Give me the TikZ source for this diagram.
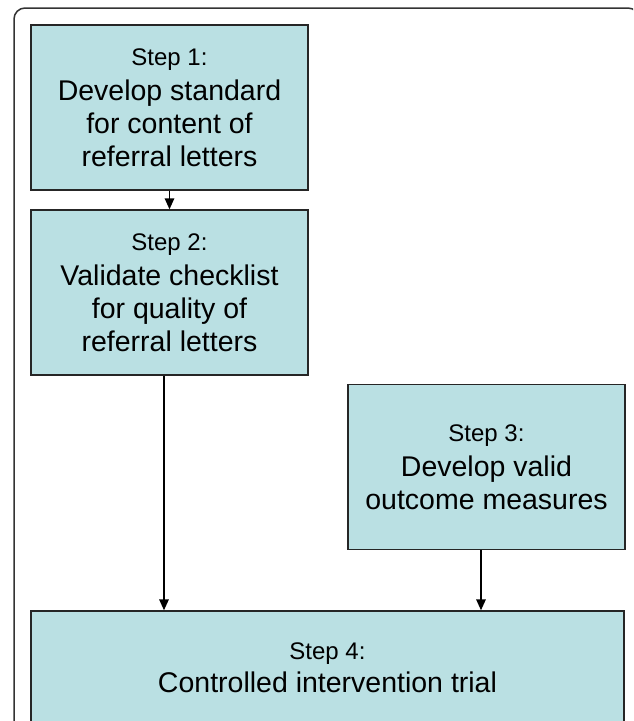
\documentclass[tikz,border=0pt]{standalone}
\usepackage{fontspec}
\setmainfont{Liberation Sans}
\usetikzlibrary{arrows.meta}
\definecolor{stepfill}{RGB}{186,224,227}

\begin{document}
\begin{tikzpicture}[
    x=1pt, y=-1pt,
    step box/.style={draw=black!85, line width=1.4pt, fill=stepfill, inner sep=0pt,
        minimum width=277pt, minimum height=165pt, align=center,
        font=\fontsize{28.5}{33}\selectfont},
    flow arrow/.style={line width=1.6pt, -{Triangle[length=11pt, width=9.5pt]}},
    outer frame/.style={draw=black!80, line width=1.5pt, rounded corners=11pt}
]
\useasboundingbox (0,0) rectangle (633,721);
\clip (0,0) rectangle (633,721);

% 1. Marco exterior (cortado a la derecha y abajo)
\draw[outer frame] (14,8) rectangle (639,760);

% 2. Cajas de los pasos
\node[step box] (box1) at (169.5,107.5) {{\fontsize{24}{33}\selectfont Step 1:}\\[2pt]
    Develop standard\\ for content of\\ referral letters};
\node[step box] (box2) at (169.5,292.5) {{\fontsize{24}{33}\selectfont Step 2:}\\[2pt]
    Validate checklist\\ for quality of\\ referral letters};
\node[step box] (box3) at (486.5,467) {{\fontsize{24}{33}\selectfont Step 3:}\\[2pt]
    Develop valid\\ outcome measures};
\node[step box, minimum width=593pt, minimum height=114pt] (box4) at (327.5,668)
    {{\fontsize{24}{33}\selectfont Step 4:}\\ Controlled intervention trial};

% 3. Flechas entre pasos
\draw[flow arrow] (box1.south) -- (box2.north);
\draw[flow arrow] ([xshift=-5.5pt]box2.south) -- ([xshift=-5.5pt]box2.south |- box4.north);
\draw[flow arrow] ([xshift=-5.5pt]box3.south) -- ([xshift=-5.5pt]box3.south |- box4.north);

\end{tikzpicture}
\end{document}
